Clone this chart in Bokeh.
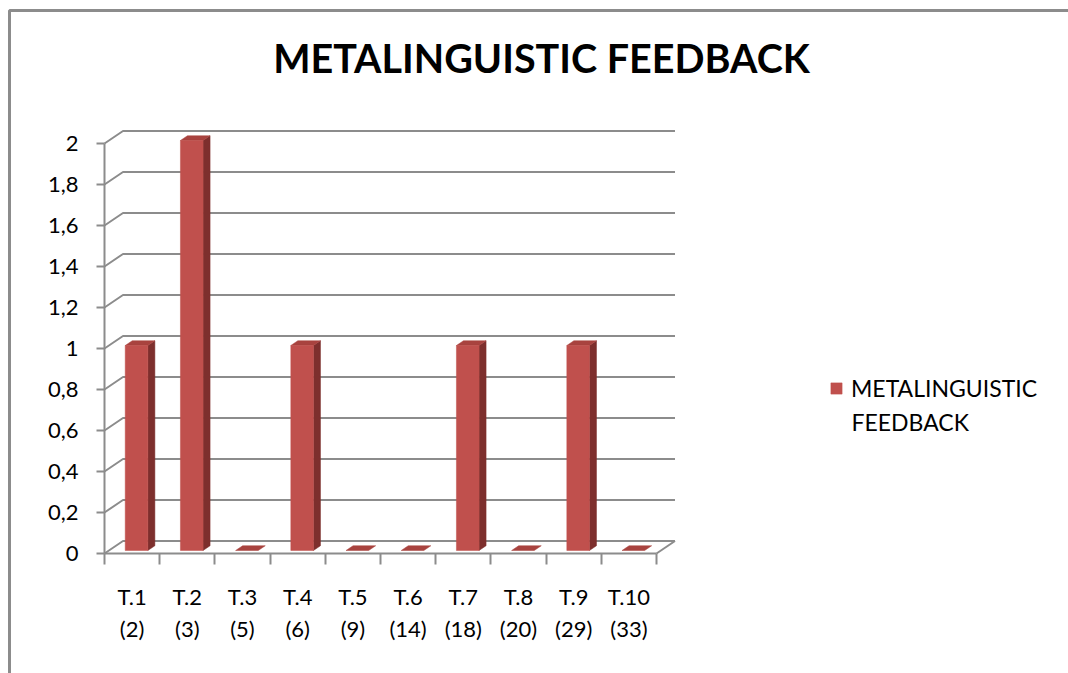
from bokeh.plotting import figure
from bokeh.models import (Range1d, FixedTicker, Legend, LegendItem, BoxAnnotation, Label)
from bokeh.embed import file_html
from bokeh.resources import INLINE

# ---- data -------------------------------------------------------------
categories = ["T.1\n(2)", "T.2\n(3)", "T.3\n(5)", "T.4\n(6)", "T.5\n(9)",
              "T.6\n(14)", "T.7\n(18)", "T.8\n(20)", "T.9\n(29)", "T.10\n(33)"]
values = [1, 2, 0, 1, 0, 0, 1, 0, 1, 0]
y_ticks = [0, 0.2, 0.4, 0.6, 0.8, 1, 1.2, 1.4, 1.6, 1.8, 2]
y_tick_labels = ["0", "0,2", "0,4", "0,6", "0,8", "1", "1,2", "1,4", "1,6", "1,8", "2"]
title_text = "METALINGUISTIC FEEDBACK"
series_label_lines = ["METALINGUISTIC", "FEEDBACK"]

# ---- styling / 3-D projection constants -------------------------------
FONT = "Lato"
GRID = "#8C8C8C"
FRONT = "#C0504D"
SIDE = "#7D2F2D"
TOP = "#A8433F"
DEPTH_X = 0.335      # depth of the chart box, in category widths
DEPTH_Y = 0.061      # depth of the chart box, in value units
BAR_W = 0.41         # bar width, in category widths
BAR_F0 = 0.24        # bar front face, as fraction of box depth
BAR_F1 = 0.62        # bar back face, as fraction of box depth

W, H = 1068, 673
PX_CAT = 55.2        # pixels per category
PX_UNIT = 205.0      # pixels per value unit
ORIGIN_X, ORIGIN_Y = 104, 553   # canvas position of the front-left floor corner

n = len(categories)
xs_center = list(range(n))
x_lo, x_hi = -0.5, n - 0.5

p = figure(width=W, height=H, output_backend="svg", toolbar_location=None,
           title=None,
           x_range=Range1d(x_lo - ORIGIN_X / PX_CAT, x_lo + (W - ORIGIN_X) / PX_CAT),
           y_range=Range1d(-(H - ORIGIN_Y) / PX_UNIT, ORIGIN_Y / PX_UNIT),
           min_border=0, min_border_left=0, min_border_right=0,
           min_border_top=0, min_border_bottom=0,
           background_fill_color="white", border_fill_color="white")
p.outline_line_color = None
p.grid.visible = False

# ---- outer chart-area border ------------------------------------------
p.add_layout(BoxAnnotation(left=9, right=W + 50, top=10, bottom=H + 50,
                           left_units="canvas", right_units="canvas",
                           top_units="canvas", bottom_units="canvas",
                           fill_alpha=0, line_color="#8C8C8C", line_alpha=1,
                           line_width=3))

# ---- title ------------------------------------------------------------
p.add_layout(Label(x=541, y=57, x_units="canvas", y_units="canvas",
                   text=title_text, text_font=FONT, text_font_style="bold",
                   text_font_size="39.5px", text_color="black",
                   text_align="center", text_baseline="middle"))

# ---- back wall, side wall and floor lines -----------------------------
gx, gy = [], []
for v in y_ticks:
    gx.append([x_lo, x_lo + DEPTH_X, x_hi + DEPTH_X])
    gy.append([v, v + DEPTH_Y, v + DEPTH_Y])
# right edge of the floor
gx.append([x_hi, x_hi + DEPTH_X])
gy.append([0, DEPTH_Y])
p.multi_line(gx, gy, line_color=GRID, line_width=2)

# ---- 3-D bars ---------------------------------------------------------
fx0, fy0 = BAR_F0 * DEPTH_X, BAR_F0 * DEPTH_Y
fx1, fy1 = BAR_F1 * DEPTH_X, BAR_F1 * DEPTH_Y

side_xs, side_ys, top_xs, top_ys = [], [], [], []
lefts, rights, tops, bottoms = [], [], [], []
for c, v in zip(xs_center, values):
    xl, xr = c - BAR_W / 2, c + BAR_W / 2
    if v > 0:
        side_xs.append([xr + fx0, xr + fx0, xr + fx1, xr + fx1])
        side_ys.append([fy0, v + fy0, v + fy1, fy1])
        lefts.append(xl + fx0)
        rights.append(xr + fx0)
        bottoms.append(fy0)
        tops.append(v + fy0)
    top_xs.append([xl + fx0, xr + fx0, xr + fx1, xl + fx1])
    top_ys.append([v + fy0, v + fy0, v + fy1, v + fy1])

p.patches(side_xs, side_ys, fill_color=SIDE, line_color=SIDE, line_width=0.5)
p.patches(top_xs, top_ys, fill_color=TOP, line_color=TOP, line_width=0.5)
front = p.quad(left=lefts, right=rights, top=tops, bottom=bottoms,
               fill_color=FRONT, line_color=FRONT, line_width=0.5)

# ---- axes (drawn on the front plane of the box) -----------------------
yax = p.yaxis[0]
yax.fixed_location = x_lo
yax.ticker = FixedTicker(ticks=y_ticks)
yax.major_label_overrides = {t: s for t, s in zip(y_ticks, y_tick_labels)}
yax.bounds = (0, max(y_ticks))
yax.minor_tick_line_color = None
yax.major_tick_in = 0
yax.major_tick_out = 8
yax.major_label_standoff = 18
yax.axis_line_color = GRID
yax.axis_line_width = 2
yax.major_tick_line_color = GRID
yax.major_tick_line_width = 2
yax.major_label_text_font = FONT
yax.major_label_text_font_size = "22px"
yax.major_label_text_color = "black"

xax = p.xaxis[0]
xax.fixed_location = 0
xax.ticker = FixedTicker(ticks=xs_center,
                         minor_ticks=[c - 0.5 for c in xs_center] + [x_hi])
xax.major_label_overrides = {c: s for c, s in zip(xs_center, categories)}
xax.bounds = (x_lo, x_hi)
xax.major_tick_in = 0
xax.major_tick_out = 0
xax.minor_tick_in = 0
xax.minor_tick_out = 11
xax.minor_tick_line_color = GRID
xax.minor_tick_line_width = 2
xax.axis_line_color = GRID
xax.axis_line_width = 2
xax.major_label_standoff = 18
xax.major_label_text_font = FONT
xax.major_label_text_font_size = "22px"
xax.major_label_text_color = "black"
xax.major_label_text_line_height = 1.2

# ---- legend (label wraps onto a second line) --------------------------
legend = Legend(items=[LegendItem(label=series_label_lines[0], renderers=[front])],
                location=(829, 271))
legend.border_line_color = None
legend.background_fill_alpha = 0
legend.padding = 0
legend.margin = 0
legend.spacing = 0
legend.glyph_width = 14
legend.glyph_height = 14
legend.label_standoff = 8
legend.label_text_font = FONT
legend.label_text_font_size = "23px"
legend.label_text_color = "black"
p.add_layout(legend)
p.add_layout(Label(x=851, y=421, x_units="canvas", y_units="canvas",
                   text=series_label_lines[1], text_font=FONT,
                   text_font_size="23px", text_color="black",
                   text_baseline="middle"))

open("out.html", "w").write(file_html(p, INLINE))
